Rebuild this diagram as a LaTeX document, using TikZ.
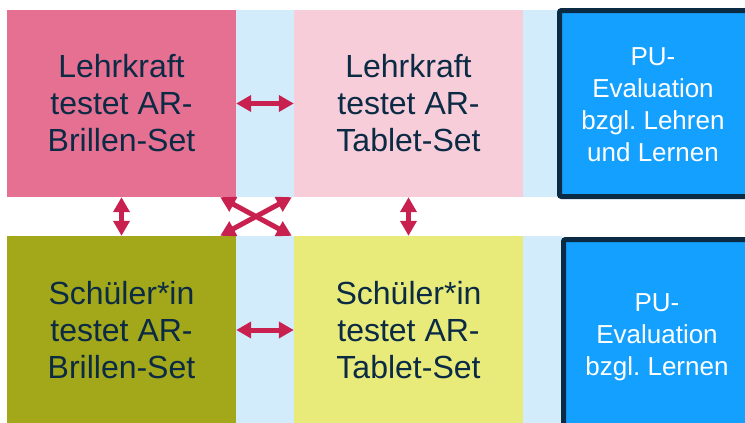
\documentclass[tikz,border=0pt]{standalone}
\usepackage{fontspec}
\setmainfont{Liberation Sans}
\usetikzlibrary{arrows.meta}
\frenchspacing

\definecolor{lkpink}{HTML}{E57092}
\definecolor{lkrose}{HTML}{F7CDD9}
\definecolor{gapblue}{HTML}{D2ECFC}
\definecolor{sosolive}{HTML}{A3A71A}
\definecolor{sosyellow}{HTML}{E8EA7A}
\definecolor{evalblue}{HTML}{14A0FE}
\definecolor{navy}{HTML}{0B2A44}
\definecolor{arrowred}{HTML}{C8204F}

\begin{document}
\begin{tikzpicture}[x=1pt, y=-1pt,
    setbox/.style={minimum width=229pt, minimum height=187pt, inner sep=0pt,
        align=center, text=navy, font=\fontsize{32}{37}\selectfont},
    gapbox/.style={fill=gapblue, inner sep=0pt},
    evalbox/.style={fill=evalblue, draw=navy, line width=5pt, rounded corners=2pt,
        minimum width=250pt, inner sep=0pt},
    evaltext/.style={align=center, text=white, font=\fontsize{26}{32}\selectfont},
    dbl/.style={{Triangle[length=15pt,width=16pt]}-{Triangle[length=15pt,width=16pt]},
        line width=5pt, arrowred}]
    \useasboundingbox (0,0) rectangle (745,423);

    % light blue strips between the sets
    \node[gapbox, minimum width=58pt, minimum height=187pt] (gt1) at (265,103.5) {};
    \node[gapbox, minimum width=35pt, minimum height=187pt] (gt2) at (540.5,103.5) {};
    \node[gapbox, minimum width=58pt, minimum height=188pt] (gb1) at (265,330) {};
    \node[gapbox, minimum width=39pt, minimum height=188pt] (gb2) at (542.5,330) {};

    % test sets
    \node[setbox, fill=lkpink] (lt) at (121.5,103.5) {Lehrkraft\\testet AR-\\Brillen-Set};
    \node[setbox, fill=lkrose] (rt) at (408.5,103.5) {Lehrkraft\\testet AR-\\Tablet-Set};
    \node[setbox, fill=sosolive, minimum height=188pt] (lb) at (121.5,330) {Schüler*in\\testet AR-\\Brillen-Set};
    \node[setbox, fill=sosyellow, minimum height=188pt] (rb) at (408.5,330) {Schüler*in\\testet AR-\\Tablet-Set};

    % evaluation
    \node[evalbox, minimum height=186pt] (et) at (684.5,103.5) {};
    \node[evaltext] (ett) at (653,104.5) {PU-\\Evaluation\\bzgl. Lehren\\und Lernen};
    \node[evalbox, minimum height=200pt] (eb) at (688.5,339.5) {};
    \node[evaltext] (ebt) at (657,337) {PU-\\Evaluation\\bzgl. Lernen};

    % arrows
    \draw[dbl] (lt.east) -- (rt.west);
    \draw[dbl] (lb.east) -- (rb.west);
    \draw[dbl] (lt.south) -- (lb.north);
    \draw[dbl] (rt.south) -- (rb.north);
    \draw[dbl] ([xshift=-16pt]lt.south east) -- ([xshift=-2pt]rb.north west);
    \draw[dbl] ([xshift=-2pt]rt.south west) -- ([xshift=-16pt]lb.north east);
\end{tikzpicture}
\end{document}
